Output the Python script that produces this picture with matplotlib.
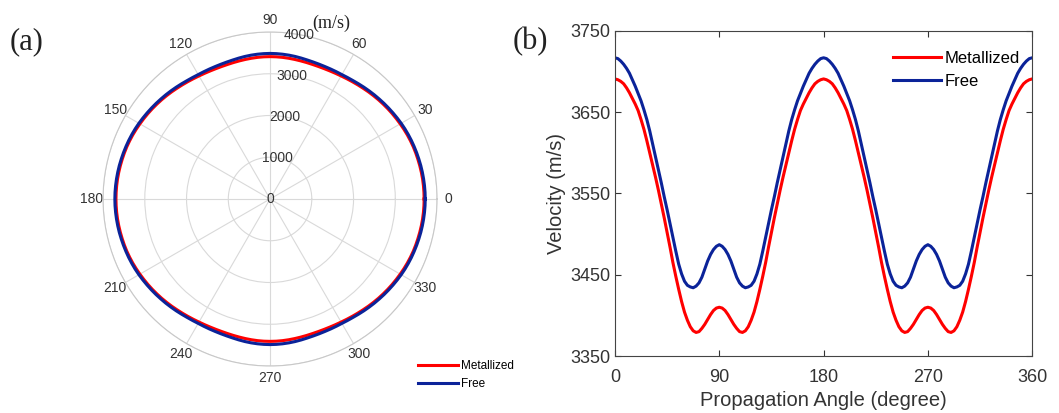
import numpy as np
import matplotlib
matplotlib.use("Agg")
import matplotlib.pyplot as plt

# propagation angle (degree), 2.5 degree steps from 0 to 360
angles = [i * 2.5 for i in range(145)]

# velocity, m/s
metallized = [
    3691, 3690, 3688, 3685, 3680, 3674, 3667, 3660, 3652, 3641, 3629, 3615, 3600,
    3585, 3570, 3554, 3537, 3520, 3502, 3484, 3465, 3448, 3432, 3417, 3404, 3394,
    3386, 3381, 3379, 3380, 3384, 3389, 3395, 3401, 3406, 3409, 3410,
    3409, 3406, 3401, 3395, 3389, 3384, 3380, 3379, 3381, 3386, 3394, 3404, 3417,
    3432, 3448, 3465, 3484, 3502, 3520, 3537, 3554, 3570, 3585, 3600, 3615, 3629,
    3641, 3652, 3660, 3667, 3674, 3680, 3685, 3688, 3690, 3691,
    3690, 3688, 3685, 3680, 3674, 3667, 3660, 3652, 3641, 3629, 3615, 3600,
    3585, 3570, 3554, 3537, 3520, 3502, 3484, 3465, 3448, 3432, 3417, 3404, 3394,
    3386, 3381, 3379, 3380, 3384, 3389, 3395, 3401, 3406, 3409, 3410,
    3409, 3406, 3401, 3395, 3389, 3384, 3380, 3379, 3381, 3386, 3394, 3404, 3417,
    3432, 3448, 3465, 3484, 3502, 3520, 3537, 3554, 3570, 3585, 3600, 3615, 3629,
    3641, 3652, 3660, 3667, 3674, 3680, 3685, 3688, 3690, 3691,
]
free = [
    3717, 3716, 3713, 3709, 3704, 3698, 3690, 3682, 3673, 3664, 3653, 3641, 3627,
    3611, 3595, 3579, 3563, 3546, 3530, 3513, 3496, 3479, 3463, 3451, 3442, 3437,
    3435, 3434, 3436, 3440, 3447, 3457, 3467, 3475, 3481, 3485, 3487,
    3485, 3481, 3475, 3467, 3457, 3447, 3440, 3436, 3434, 3435, 3437, 3442, 3451,
    3463, 3479, 3496, 3513, 3530, 3546, 3563, 3579, 3595, 3611, 3627, 3641, 3653,
    3664, 3673, 3682, 3690, 3698, 3704, 3709, 3713, 3716, 3717,
    3716, 3713, 3709, 3704, 3698, 3690, 3682, 3673, 3664, 3653, 3641, 3627,
    3611, 3595, 3579, 3563, 3546, 3530, 3513, 3496, 3479, 3463, 3451, 3442, 3437,
    3435, 3434, 3436, 3440, 3447, 3457, 3467, 3475, 3481, 3485, 3487,
    3485, 3481, 3475, 3467, 3457, 3447, 3440, 3436, 3434, 3435, 3437, 3442, 3451,
    3463, 3479, 3496, 3513, 3530, 3546, 3563, 3579, 3595, 3611, 3627, 3641, 3653,
    3664, 3673, 3682, 3690, 3698, 3704, 3709, 3713, 3716, 3717,
]

r_ticks = [0, 1000, 2000, 3000, 4000]
theta_ticks = list(range(0, 360, 30))

red = "#ff0000"
blue = "#0b2399"

plt.rcParams["font.family"] = ["Liberation Sans", "DejaVu Sans"]

fig = plt.figure(figsize=(10.59, 4.13), dpi=100)

# ---- (a) polar plot ----
axp = fig.add_axes([0.0973, 0.1138, 0.3154, 0.8087], projection="polar")
theta = np.deg2rad(angles)
axp.plot(theta, metallized, color=red, lw=2.2, label="Metallized")
axp.plot(theta, free, color=blue, lw=2.2, label="Free")
axp.set_ylim(0, 4000)
axp.set_yticks(r_ticks)
axp.set_yticklabels([])
for r in r_ticks:
    axp.text(np.deg2rad(80), r, str(r), ha="center", va="center",
             fontsize=10, color="#333333")
axp.set_thetagrids(theta_ticks, [str(a) for a in theta_ticks],
                   fontsize=10, color="#333333")
axp.tick_params(axis="x", pad=-2)
axp.grid(color="#d9d9d9", lw=0.8)
axp.spines["polar"].set_color("#c8c8c8")
axp.spines["polar"].set_linewidth(0.8)
axp.legend(loc="upper left", bbox_to_anchor=(0.925, 0.035), frameon=False,
           fontsize=8.5, handlelength=3.4, handletextpad=0.25, labelspacing=0.5,
           borderpad=0)
fig.text(0.313, 0.944, "(m/s)", family="Liberation Serif", fontsize=13,
         ha="center", va="center", color="#222222")
fig.text(0.009, 0.9, "(a)", family="Liberation Serif", fontsize=22,
         ha="left", va="center", color="#222222")

# ---- (b) cartesian plot ----
ax = fig.add_axes([0.5807, 0.138, 0.394, 0.787])
ax.plot(angles, metallized, color=red, lw=2.2, label="Metallized")
ax.plot(angles, free, color=blue, lw=2.2, label="Free")
ax.set_xlim(0, 360)
ax.set_ylim(3350, 3750)
ax.set_xticks([0, 90, 180, 270, 360])
ax.set_yticks([3350, 3450, 3550, 3650, 3750])
ax.tick_params(direction="in", top=True, right=True, labelsize=13,
               colors="#333333", length=4, width=0.8)
ax.tick_params(axis="x", pad=9)
for s in ax.spines.values():
    s.set_color("#444444")
    s.set_linewidth(0.8)
ax.set_xlabel("Propagation Angle (degree)", fontsize=14.5, color="#333333", labelpad=4)
ax.set_ylabel("Velocity (m/s)", fontsize=14.5, color="#333333", labelpad=3)
ax.legend(loc="upper right", bbox_to_anchor=(0.99, 0.965), frameon=False,
          fontsize=12, handlelength=2.9, handletextpad=0.2, labelspacing=0.5,
          borderpad=0)
fig.text(0.484, 0.9, "(b)", family="Liberation Serif", fontsize=22,
         ha="left", va="center", color="#222222")

fig.savefig("out.png", dpi=100)
